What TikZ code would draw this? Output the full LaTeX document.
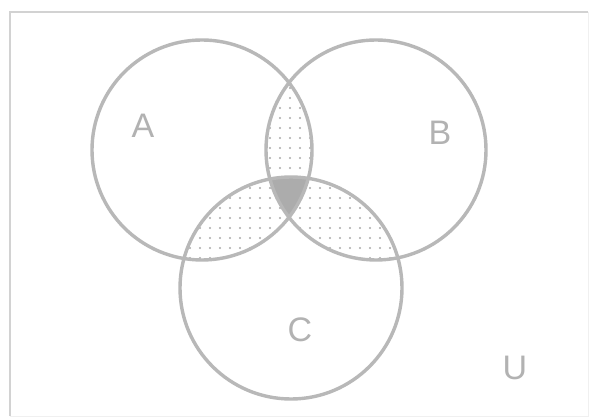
\documentclass[tikz,border=0pt]{standalone}
\usepackage{fontspec}
\setmainfont{Liberation Sans}
\definecolor{venngray}{RGB}{184,184,184}
\definecolor{triplegray}{RGB}{172,172,172}
\definecolor{dotgray}{RGB}{170,170,170}
\begin{document}
\begin{tikzpicture}[x=1pt,y=1pt,
  setline/.style={draw=venngray,line width=3.4pt},
  setlabel/.style={text=gray!60,font=\fontsize{34}{38}\selectfont,inner sep=0pt}]
\useasboundingbox (0,0) rectangle (589,418);
\fill[white] (0,0) rectangle (589,418);

% universe frame
\draw[gray!35,line width=1.2pt] (10,2) -- (10,406) -- (588,406);
\draw[gray!12,line width=1pt] (588,406) -- (588,2) -- (10,2);

\coordinate (cA) at (202,268);
\coordinate (cB) at (376,268);
\coordinate (cC) at (291,130);

% dotted pairwise regions
\begin{scope}
\clip (cA) circle (110);
\clip (cB) circle (110);
\foreach \i in {180,190,...,400}
  \foreach \j in {60,70,...,340}
    \fill[dotgray] (\i,\j) circle (1.1);
\end{scope}
\begin{scope}
\clip (cA) circle (110);
\clip (cC) circle (111);
\foreach \i in {180,190,...,400}
  \foreach \j in {60,70,...,340}
    \fill[dotgray] (\i,\j) circle (1.1);
\end{scope}
\begin{scope}
\clip (cB) circle (110);
\clip (cC) circle (111);
\foreach \i in {180,190,...,400}
  \foreach \j in {60,70,...,340}
    \fill[dotgray] (\i,\j) circle (1.1);
\end{scope}

% triple intersection
\begin{scope}
\clip (cA) circle (110);
\clip (cB) circle (110);
\fill[triplegray] (cC) circle (111);
\end{scope}

\draw[setline] (cA) circle (110);
\draw[setline] (cB) circle (110);
\draw[setline] (cC) circle (111);

\node[setlabel] (labA) at (143,292) {A};
\node[setlabel] (labB) at (440,285) {B};
\node[setlabel] (labC) at (300,88) {C};
\node[setlabel] (labU) at (515,50) {U};
\end{tikzpicture}
\end{document}
